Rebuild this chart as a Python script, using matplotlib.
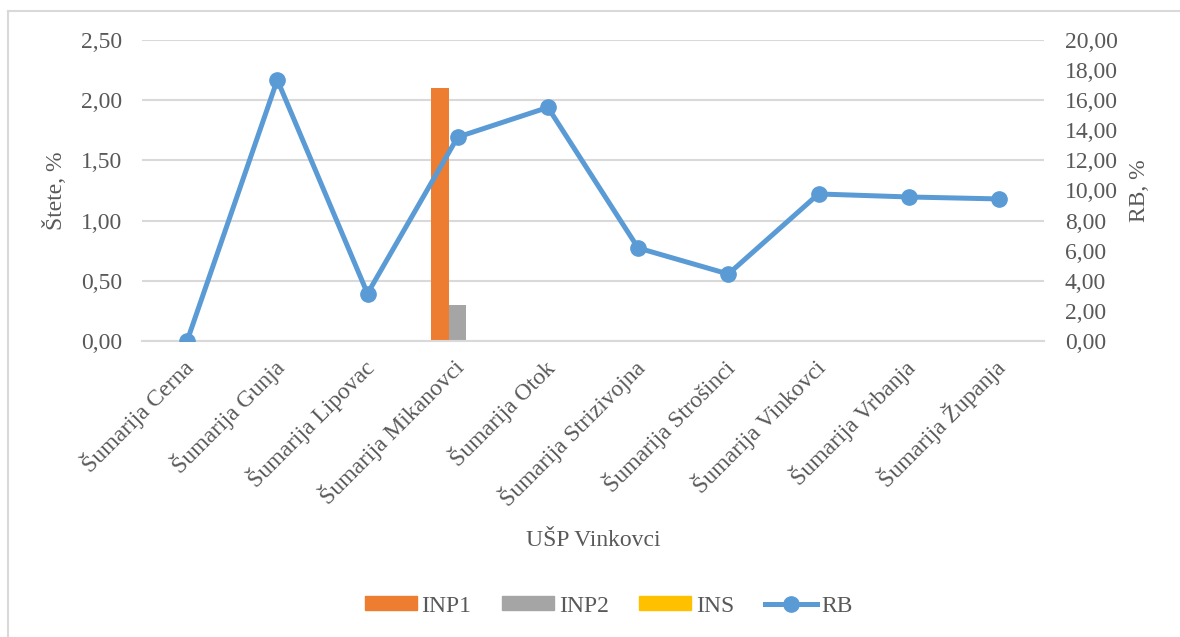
import matplotlib.pyplot as plt
import numpy as np
from matplotlib.lines import Line2D
from matplotlib.transforms import ScaledTranslation

plt.rcParams['font.family'] = ['Liberation Serif', 'DejaVu Serif']

categories = ["Šumarija Cerna", "Šumarija Gunja", "Šumarija Lipovac", "Šumarija Mikanovci",
              "Šumarija Otok", "Šumarija Strizivojna", "Šumarija Strošinci", "Šumarija Vinkovci",
              "Šumarija Vrbanja", "Šumarija Županja"]
inp1 = [0, 0, 0, 2.10, 0, 0, 0, 0, 0, 0]
inp2 = [0, 0, 0, 0.30, 0, 0, 0, 0, 0, 0]
ins = [0, 0, 0, 0, 0, 0, 0, 0, 0, 0]
rb = [0.00, 17.35, 3.15, 13.55, 15.52, 6.18, 4.45, 9.77, 9.57, 9.44]

txt = '#595959'
grid = '#d9d9d9'
fs = 17

fig = plt.figure(figsize=(11.8, 6.37), dpi=100)
ax = fig.add_axes([142/1180, 1-341/637, 902/1180, 301/637])
ax2 = ax.twinx()

x = np.arange(len(categories))
w = 0.194
ax.bar(x - w, inp1, w, color='#ED7D31', label='INP1', zorder=2)
ax.bar(x, inp2, w, color='#A5A5A5', label='INP2', zorder=2)
ax.bar(x + w, ins, w, color='#FFC000', label='INS', zorder=2)
ax2.plot(x, rb, color='#5B9BD5', lw=3.6, marker='o', ms=11, label='RB',
         solid_capstyle='round', zorder=3)

ax.set_xlim(-0.5, len(categories) - 0.5)
ax.set_ylim(0, 2.5)
ax2.set_ylim(0, 20)
ax.set_yticks(np.arange(0, 2.51, 0.5))
ax2.set_yticks(np.arange(0, 20.1, 2))
ax.set_yticklabels([f"{v:.2f}".replace('.', ',') for v in np.arange(0, 2.51, 0.5)])
ax2.set_yticklabels([f"{v:.2f}".replace('.', ',') for v in np.arange(0, 20.1, 2)])
ax.yaxis.grid(True, color=grid, lw=1.5, zorder=0)
ax.set_axisbelow(True)

for a in (ax, ax2):
    for s in a.spines.values():
        s.set_visible(False)
    a.tick_params(length=0, labelsize=fs, labelcolor=txt)
ax.spines['bottom'].set_visible(True)
ax.spines['bottom'].set_color(grid)
ax.spines['bottom'].set_linewidth(1.5)
ax.tick_params(axis='y', pad=14)
ax2.tick_params(axis='y', pad=15)

ax.set_xticks(x)
ax.set_xticklabels(categories, rotation=45, ha='right', rotation_mode='anchor')
ax.tick_params(axis='x', pad=10)
shift = ScaledTranslation(-6/100, 0, fig.dpi_scale_trans)
for lbl in ax.get_xticklabels():
    lbl.set_transform(lbl.get_transform() + shift)

ax.set_ylabel("Štete, %", fontsize=fs, color=txt, labelpad=10)
ax2.set_ylabel("RB, %", fontsize=fs, color=txt, labelpad=8)
fig.text(593/1180, 1-540/637, "UŠP Vinkovci", fontsize=fs, color=txt, ha='center', va='center')

handles = [plt.Rectangle((0, 0), 1, 1, color='#ED7D31'),
           plt.Rectangle((0, 0), 1, 1, color='#A5A5A5'),
           plt.Rectangle((0, 0), 1, 1, color='#FFC000'),
           Line2D([0], [0], color='#5B9BD5', lw=3.6, marker='o', ms=11)]
leg = fig.legend(handles, ['INP1', 'INP2', 'INS', 'RB'], loc='center',
                 bbox_to_anchor=(609/1180, 1-606/637), ncol=4, frameon=False,
                 fontsize=fs, handlelength=2.2, handleheight=0.5, columnspacing=1.3,
                 handletextpad=0.2, labelcolor=txt)

# chart frame (top and left edges visible)
fig.add_artist(Line2D([8/1180, 1], [1-11/637, 1-11/637], color=grid, lw=1.5))
fig.add_artist(Line2D([8/1180, 8/1180], [0, 1-11/637], color=grid, lw=1.5))

fig.savefig('out.png', dpi=100)
